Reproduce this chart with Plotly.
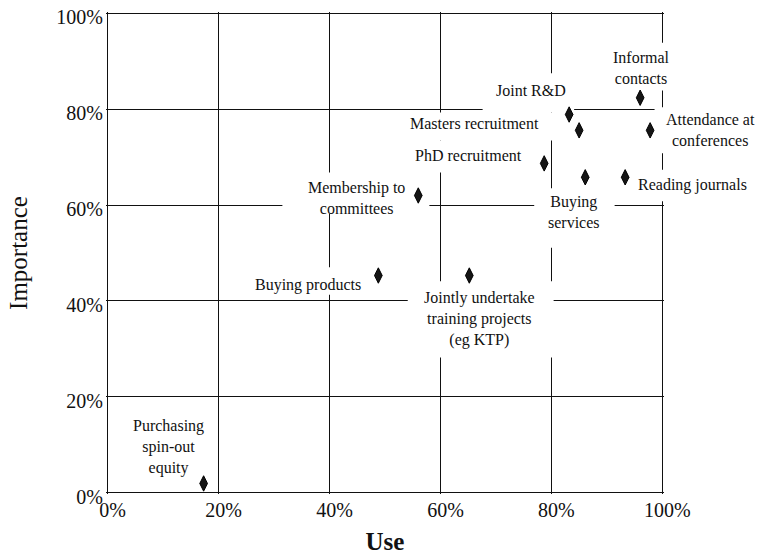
import plotly.graph_objects as go

# Data (percent)
activities = ["Informal contacts", "Joint R&D", "Masters recruitment", "Attendance at conferences",
              "PhD recruitment", "Buying services", "Reading journals", "Membership to committees",
              "Buying products", "Jointly undertake training projects (eg KTP)", "Purchasing spin-out equity"]
use = [96.0, 83.2, 85.0, 97.8, 78.7, 86.1, 93.3, 56.0, 48.8, 65.2, 17.3]
importance = [82.4, 78.9, 75.6, 75.6, 68.7, 65.8, 65.8, 62.0, 45.3, 45.3, 1.9]
tick_vals = [0, 20, 40, 60, 80, 100]
tick_text = ["0%", "20%", "40%", "60%", "80%", "100%"]

# label text and placement (axis percent)
label_text = ["Informal<br>contacts", "Joint R&D", "Masters recruitment", "Attendance at<br>conferences",
              "PhD recruitment", "Buying<br>services", "Reading journals", "Membership to<br>committees",
              "Buying products", "Jointly undertake<br>training projects<br>(eg KTP)",
              "Purchasing<br>spin-out<br>equity"]
label_pos = [(96.2, 88.7), (76.4, 83.9), (66.1, 77.0), (108.7, 75.6), (65.0, 70.4), (84.0, 58.5),
             (105.4, 64.1), (44.9, 61.4), (36.2, 43.4), (67.0, 36.3), (11.0, 9.6)]
# white label boxes that interrupt the grid (x0, x1, y0, y1 in axis percent)
label_boxes = [(90.8, 104, 83.9, 93.9), (67.6, 84.1, 79.3, 87.5), (53.5, 81.4, 73.5, 79.3),
               (54.4, 76.0, 66.8, 73.5), (98.6, 119, 70.8, 80.4), (94.6, 119, 60.8, 67.4),
               (76.9, 91.4, 51.1, 63.5), (31.5, 58.0, 58.2, 66.8), (25.6, 47.2, 41.3, 47.0),
               (54.1, 80.4, 28.2, 44.1)]

FONT = "Liberation Serif, Times New Roman, serif"
PAD = 0.3
RANGE = [-PAD, 100 + PAD]


def to_paper(v):
    return (v + PAD) / (100 + 2 * PAD)


fig = go.Figure()
fig.add_trace(go.Scatter(
    x=use, y=importance, mode="markers", text=activities,
    marker=dict(symbol="diamond-tall", size=11, color="#151515",
                line=dict(color="#000000", width=1)),
    hovertemplate="%{text}<br>Use: %{x}%<br>Importance: %{y}%<extra></extra>",
    showlegend=False, cliponaxis=False,
))

shapes = []
for x0, x1, y0, y1 in label_boxes:
    shapes.append(dict(type="rect", xref="x", yref="y", x0=x0, x1=x1, y0=y0, y1=y1,
                       fillcolor="white", line=dict(width=0), layer="between"))

annotations = []
for t, (lx, ly) in zip(label_text, label_pos):
    annotations.append(dict(text=t, xref="paper", yref="paper", x=to_paper(lx), y=to_paper(ly),
                            showarrow=False, xanchor="center", yanchor="middle",
                            font=dict(family=FONT, size=16, color="#111111")))

fig.update_layout(
    width=761, height=555,
    margin=dict(l=106, r=97, t=12, b=61),
    paper_bgcolor="white", plot_bgcolor="white",
    font=dict(family=FONT, color="#111111"),
    shapes=shapes, annotations=annotations,
    xaxis=dict(range=RANGE, tickvals=tick_vals, ticktext=tick_text, showgrid=True,
               gridcolor="#111111", gridwidth=1.4, zeroline=False, showline=False, ticks="",
               tickfont=dict(family=FONT, size=20, color="#111111"), ticklabelshift=5,
               ticklabelstandoff=2, ticklabeloverflow="allow", automargin=False,
               title=dict(text="<b>Use</b>", font=dict(family=FONT, size=25, color="#111111"),
                          standoff=12)),
    yaxis=dict(range=RANGE, tickvals=tick_vals, ticktext=tick_text, showgrid=True,
               gridcolor="#111111", gridwidth=1.4, zeroline=False, showline=False, ticks="",
               tickfont=dict(family=FONT, size=20, color="#111111"), ticklabelshift=4,
               ticklabelstandoff=2, ticklabeloverflow="allow", automargin=False,
               title=dict(text="Importance", font=dict(family=FONT, size=25, color="#111111"),
                          standoff=21)),
)

fig.write_html("out.html", config={"displayModeBar": False},
               post_script="document.body.style.margin='0';")
